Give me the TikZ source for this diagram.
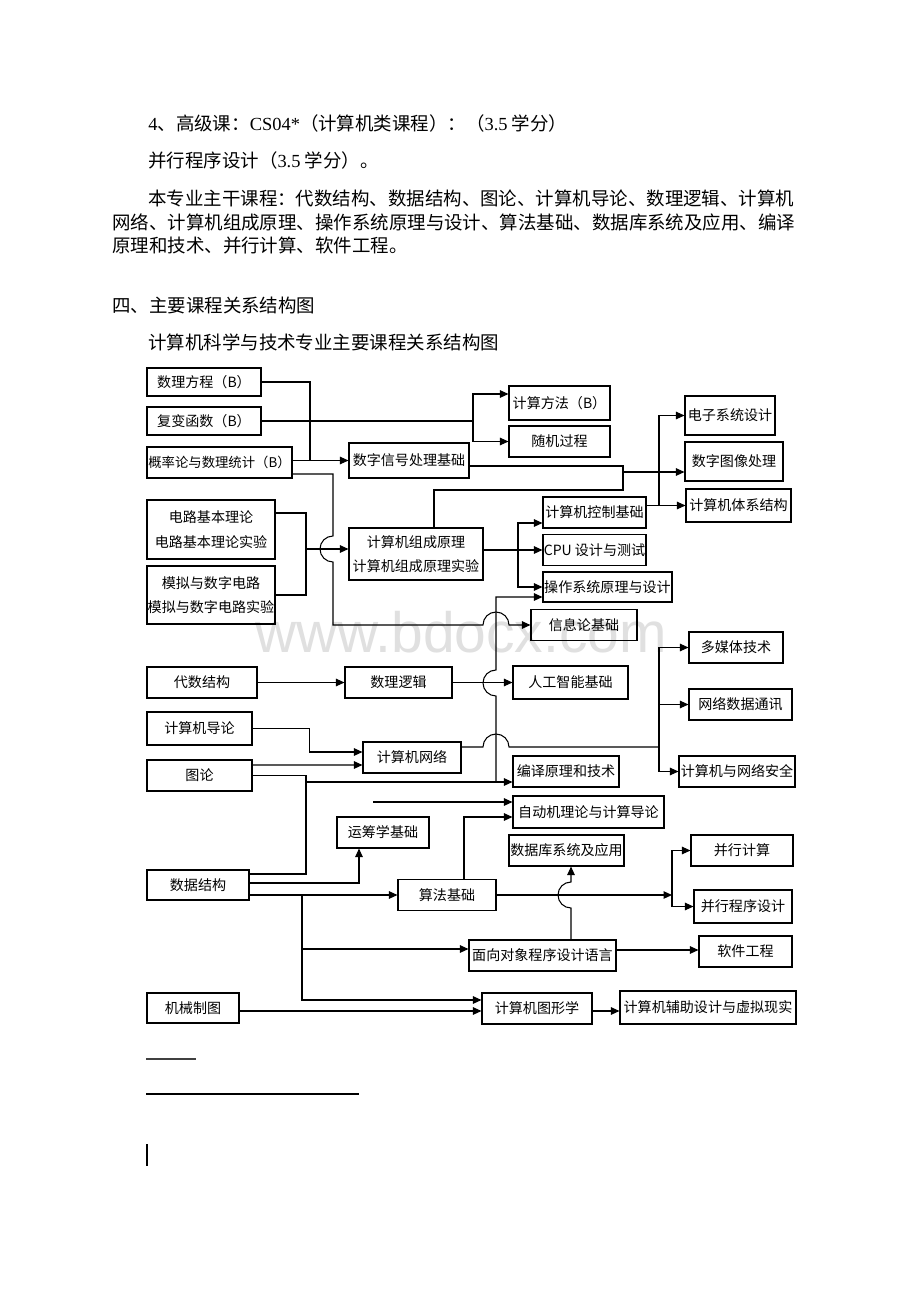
\documentclass[tikz,border=0pt]{standalone}
\usepackage{fontspec}
\usepackage{tikz}
\usetikzlibrary{arrows.meta}
\newfontfamily\cjk{Noto Sans CJK SC}
\newfontfamily\lat{Liberation Serif}
\newfontfamily\wmfont{Liberation Sans}

\begin{document}
\begin{tikzpicture}[
      x = 0.2mm, y = -0.2mm,
      box/.style  = {draw, line width = .6pt, inner sep = 0pt, align = center,
                     font = \cjk\fontsize{8pt}{14pt}\selectfont},
      sz/.style 2 args = {minimum width = #1mm, minimum height = #2mm},
      ln/.style   = {line width = .6pt},
      arr/.style  = {ln, -{Triangle[length = 1.7mm, width = 1.5mm]}},
      hop/.style  = {radius = 2.6mm},
      body/.style = {anchor = west, inner sep = 0pt,
                     font = \cjk\fontsize{10.5pt}{12pt}\selectfont},
      wm/.style   = {anchor = base, inner sep = 0pt, text = black!12,
                     font = \wmfont\fontsize{32.4pt}{34pt}\selectfont}
    ]

  \fill[white] (0,0) rectangle (920,1302);
  \useasboundingbox (0,0) rectangle (920,1302);

  % ---------- text above the chart --------------------------------------
  \node[body] (t1) at (148,123) {{\lat 4}、高级课：{\lat CS04*}（计算机类课程）：（{\lat 3.5} 学分）};
  \node[body] (t2) at (148,160) {并行程序设计（{\lat 3.5} 学分）。};
  \node[body] (t3) at (148,198) {本专业主干课程：代数结构、数据结构、图论、计算机导论、数理逻辑、计算机};
  \node[body] (t4) at (112,222) {网络、计算机组成原理、操作系统原理与设计、算法基础、数据库系统及应用、编译};
  \node[body] (t5) at (112,246) {原理和技术、并行计算、软件工程。};
  \node[body] (t6) at (112,305) {四、主要课程关系结构图};
  \node[body] (t7) at (148,342) {计算机科学与技术专业主要课程关系结构图};

  \node[wm] (mark0) at (461,652) {www.bdocx.com};

  % ---------- left column ------------------------------------------------
  \node[box, sz={22.8}{5.6}]  (fangcheng) at (204,382)   {数理方程（B）};
  \node[box, sz={22.8}{5.6}]  (fubian)    at (204,421)   {复变函数（B）};
  \node[box, sz={29}{6.2}, font = \cjk\fontsize{7.6pt}{14pt}\selectfont]
                              (gailv)     at (219.5,462.5) {概率论与数理统计（B）};
  \node[box, sz={25.6}{11.8}] (dianlu)    at (211,529.5) {电路基本理论\\电路基本理论实验};
  \node[box, sz={25.6}{11.6}] (moni)      at (211,595)   {模拟与数字电路\\模拟与数字电路实验};
  \node[box, sz={22}{6.2}]    (daishu)    at (202,682.5) {代数结构};
  \node[box, sz={21}{6.6}]    (daolun)    at (199.5,728.5) {计算机导论};
  \node[box, sz={21}{6.2}]    (tulun)     at (199.5,775.5) {图论};
  \node[box, sz={20.4}{6}]    (jiegou)    at (198,885)   {数据结构};
  \node[box, sz={18.4}{6}]    (jixie)     at (193,1008)  {机械制图};

  % ---------- middle column ----------------------------------------------
  \node[box, sz={24}{7}]      (xinhao)    at (409,460.5) {数字信号处理基础};
  \node[box, sz={26.8}{10.4}] (zucheng)   at (416,554)   {计算机组成原理\\计算机组成原理实验};
  \node[box, sz={21.4}{6.2}]  (luoji)     at (398.5,682.5) {数理逻辑};
  \node[box, sz={19.6}{6.2}]  (wangluo)   at (412,757.5) {计算机网络};
  \node[box, sz={18.4}{6.2}]  (yunchou)   at (383,832.5) {运筹学基础};
  \node[box, sz={19.6}{6.2}]  (suanfa)    at (447,895)   {算法基础};
  \node[box, sz={29.4}{6.2}]  (mianxiang) at (542.5,955.5) {面向对象程序设计语言};
  \node[box, sz={22}{6.2}]    (tuxing)    at (537,1008.5) {计算机图形学};

  \node[box, sz={20.2}{6.8}]  (fangfa)    at (559.5,403) {计算方法（B）};
  \node[box, sz={20.2}{6.2}]  (suiji)     at (559.5,441.5) {随机过程};
  \node[box, sz={20.6}{6.2}]  (kongzhi)   at (594.5,512.5) {计算机控制基础};
  \node[box, sz={20.6}{6.2}]  (cpu)       at (594.5,550) {CPU 设计与测试};
  \node[box, sz={25.8}{6}]    (caozuo)    at (607.5,587) {操作系统原理与设计};
  \node[box, sz={21.2}{6.2}]  (xinxilun)  at (584,625)   {信息论基础};
  \node[box, sz={23}{6.6}]    (rengong)   at (570.5,682.5) {人工智能基础};
  \node[box, sz={21.2}{6.2}]  (bianyi)    at (566,771.5) {编译原理和技术};
  \node[box, sz={30.2}{6.4}]  (zidongji)  at (588.5,812) {自动机理论与计算导论};
  \node[box, sz={23}{6.2}]    (shujuku)   at (566.5,850.5) {数据库系统及应用};

  % ---------- right column -----------------------------------------------
  \node[box, sz={18}{7.8}]    (dianzi)    at (730,415.5) {电子系统设计};
  \node[box, sz={19.6}{7.8}]  (tuxiang)   at (734,461.5) {数字图像处理};
  \node[box, sz={21}{6.6}]    (tixi)      at (738.5,505.5) {计算机体系结构};
  \node[box, sz={18.8}{6.2}]  (duomeiti)  at (736,647.5) {多媒体技术};
  \node[box, sz={20.6}{6.2}]  (tongxun)   at (740.5,704.5) {网络数据通讯};
  \node[box, sz={23.2}{6.2}]  (anquan)    at (737,771.5) {计算机与网络安全};
  \node[box, sz={20.4}{6.2}]  (bingxing)  at (742,850.5) {并行计算};
  \node[box, sz={19.6}{6.6}]  (chengxu)   at (743,906.5) {并行程序设计};
  \node[box, sz={18.6}{6.2}]  (ruanjian)  at (745.5,951.5) {软件工程};
  \node[box, sz={35.2}{6.6}]  (fuzhu)     at (708,1007.5) {计算机辅助设计与虚拟现实};

  % ---------- junctions and crossings ------------------------------------
  \coordinate (j1) at (310,460.5);
  \coordinate (jf) at (473,421);
  \coordinate (j2) at (306,549);
  \coordinate (j3) at (623,472);
  \coordinate (j4) at (659,505.5);
  \coordinate (j5) at (518,550);
  \coordinate (j6) at (496,782);
  \coordinate (j7) at (306,782);
  \coordinate (j8) at (659,747);
  \coordinate (j9) at (302,895);
  \coordinate (j10) at (672,895);
  \coordinate (free) at (373,802);
  \coordinate (h1) at (333,549);
  \coordinate (h2) at (496,625);
  \coordinate (h3) at (496,683);
  \coordinate (h4) at (496,747);
  \coordinate (h5) at (571,895);

  % ---------- upper connectors -------------------------------------------
  \draw[ln]  (fangcheng.east) -| (j1);
  \draw[arr] (gailv.east |- xinhao.west) -- (xinhao.west);
  \draw[ln]  (fubian.east) -- (jf);
  \draw[arr] (jf) |- ([yshift=1.8mm]fangfa.west);
  \draw[arr] (jf) |- (suiji.west);

  \draw[ln]  ([yshift=3.3mm]dianlu.east) -| (j2);
  \draw[ln]  (moni.east) -| (j2);
  \draw[arr] (j2) -- (j2 -| zucheng.west);

  \draw[arr] ([yshift=-2.3mm]gailv.east) -| ([yshift=2.6mm]h1)
             arc[start angle=90, end angle=270, hop]
             |- ([xshift=-2.6mm]h2) arc[start angle=180, end angle=0, hop]
             -- (xinxilun.west);

  \draw[ln]  ([yshift=-1.1mm]xinhao.east) -| (j3);
  \draw[ln]  ([xshift=3.6mm]zucheng.north) |- ([yshift=-3.6mm]j3) -- (j3);
  \draw[arr] (j3) -- (j3 -| tuxiang.west);

  \draw[arr] (kongzhi.east |- tixi.west) -- (tixi.west);
  \draw[arr] (j4) |- (dianzi.west);

  \draw[arr] (zucheng.east |- cpu.west) -- (cpu.west);
  \draw[arr] (j5) |- ([yshift=-2.1mm]kongzhi.west);
  \draw[arr] (j5) |- (caozuo.west);

  % ---------- middle connectors ------------------------------------------
  \draw[arr] (daishu.east) -- (luoji.west);
  \draw[arr] (luoji.east) -- (rengong.west);
  \draw[arr] (daolun.east) -- ++(57,0) |- ([yshift=1.1mm]wangluo.west);
  \draw[arr] ([yshift=2.1mm]tulun.east) -- ([yshift=-1.5mm]wangluo.west);
  \draw[ln]  (tulun.east) -| (j7) |- ([yshift=2.2mm]jiegou.east);
  \draw[arr] (j7) -- (j7 -| bianyi.west);

  \draw[arr] (j6) -- ([yshift=-2.6mm]h3) arc[start angle=270, end angle=90, hop]
             |- ([yshift=-2mm]caozuo.west);

  \draw[ln]  ([yshift=2.1mm]wangluo.east) -- ([xshift=-2.6mm]h4)
             arc[start angle=180, end angle=0, hop] -- (j8);
  \draw[arr] (j8) |- (duomeiti.west);
  \draw[arr] (j8 |- tongxun.west) -- (tongxun.west);
  \draw[arr] (j8) |- (anquan.west);

  \draw[arr] (free) -- (free -| zidongji.west);
  \draw[arr] ([xshift=3.4mm]suanfa.north) |- ([yshift=-1mm]zidongji.west);

  % ---------- lower connectors -------------------------------------------
  \draw[arr] ([yshift=0.4mm]jiegou.east) -| ([xshift=-4.8mm]yunchou.south);
  \draw[arr] (jiegou.east |- suanfa.west) -- (suanfa.west);
  \draw[arr] (j9) |- ([yshift=1.3mm]mianxiang.west);
  \draw[arr] (j9) |- ([yshift=1.7mm]tuxing.west);
  \draw[arr] ([yshift=-0.6mm]jixie.east) -- ([yshift=-0.6mm]jixie.east -| tuxing.west);
  \draw[arr] ([yshift=-0.5mm]tuxing.east) -- ([yshift=-0.5mm]tuxing.east -| fuzhu.west);

  \draw[arr] (suanfa.east) -- (j10);
  \draw[arr] (j10) |- (bingxing.west);
  \draw[arr] (j10) |- (chengxu.west);

  \draw[arr] ([xshift=5.7mm]mianxiang.north) -- ([yshift=-2.6mm]h5)
             arc[start angle=270, end angle=90, hop] -- (h5 |- shujuku.south);
  \draw[arr] ([yshift=1.1mm]mianxiang.east) -- ([yshift=1.1mm]mianxiang.east -| ruanjian.west);

  % ---------- footnote rules ---------------------------------------------
  \draw[line width = 1.1pt, black!75] (146,1059) -- (196,1059);
  \draw[line width = .6pt] (146,1094) -- (359,1094);
  \draw[line width = 1.1pt] (147,1144) -- (147,1166);

\end{tikzpicture}
\end{document}
